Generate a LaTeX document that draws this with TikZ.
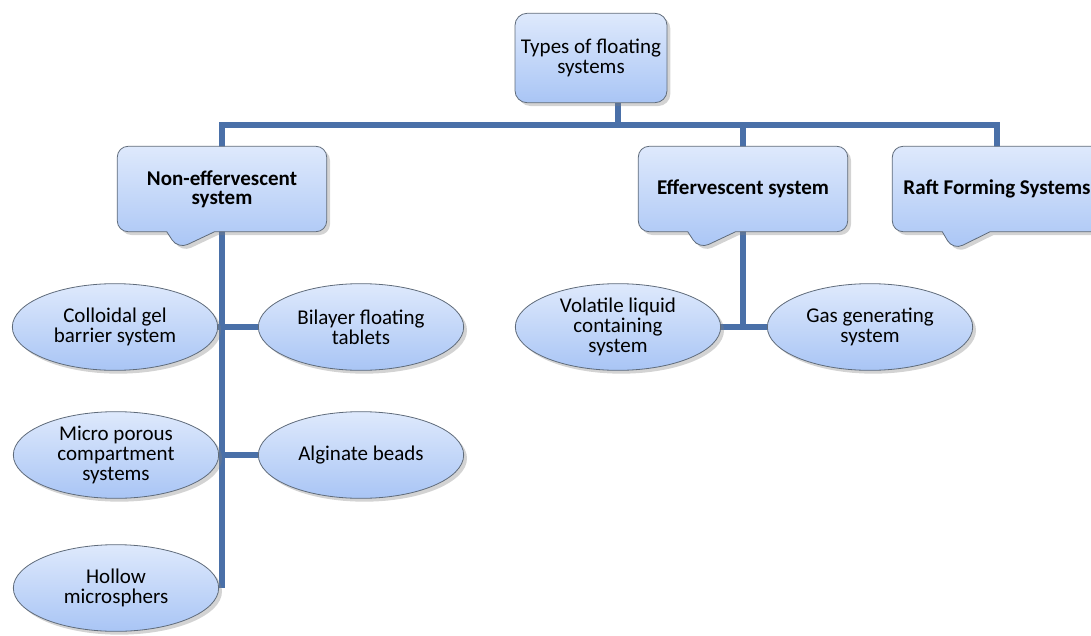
\documentclass[tikz,border=0pt]{standalone}
\usepackage{fontspec}
\setmainfont{Carlito}
\usetikzlibrary{shapes.geometric,shapes.callouts,shadows,backgrounds}
\definecolor{linkblue}{HTML}{4A70A8}
\definecolor{boxtop}{HTML}{DEE9FC}
\definecolor{boxbot}{HTML}{A9C5F5}
\definecolor{edge}{HTML}{5F6B7A}

\begin{document}
\begin{tikzpicture}[x=0.75pt, y=-0.75pt,
  base/.style={draw=edge, line width=0.6pt, top color=boxtop, bottom color=boxbot, align=center,
    font=\fontsize{15.75}{14.5}\selectfont,
    drop shadow={shadow xshift=2.5pt, shadow yshift=-2.5pt, opacity=0.35}},
  topbox/.style={base, rectangle, rounded corners=9pt, minimum width=114pt, minimum height=67pt},
  kind/.style={base, rectangle callout, rounded corners=8pt, minimum width=157pt, minimum height=64pt,
    font=\fontsize{15.75}{14.5}\selectfont\bfseries,
    callout absolute pointer={#1}, callout pointer width=36pt},
  sub/.style={base, ellipse, inner sep=0pt, minimum width=154pt, minimum height=65pt,
    font=\fontsize{15.75}{15}\selectfont},
  link/.style={draw=linkblue, line width=4.5pt}]
\useasboundingbox (0,0) rectangle (1091,635);
% top level
\node[topbox] (root) at (591,58) {Types of floating\\systems};
\coordinate (bus) at (618,125);
% kinds
\node[kind={(178,249)}] (nonef) at (222,189) {Non-effervescent\\system};
\node[kind={(699,249)}] (eff)   at (743,189) {Effervescent system};
\node[kind={(953,250)}] (raft)  at (997,189) {Raft Forming Systems};
% non-effervescent members
\node[sub] (colloid)  at (115,327) {Colloidal gel\\barrier system};
\node[sub] (bilayer)  at (361,327) {Bilayer floating\\tablets};
\node[sub] (micro)    at (116,455) {Micro porous\\compartment\\systems};
\node[sub] (alginate) at (361,455) {Alginate beads};
\node[sub] (hollow)   at (116,588) {Hollow\\microsphers};
% effervescent members
\node[sub] (volatile) at (618,327) {Volatile liquid\\containing\\system};
\node[sub] (gas)      at (870,327) {Gas generating\\system};
% connectors
\begin{scope}[on background layer]
\draw[link] (bus |- root.south) -- (bus);
\draw[link] (nonef.center |- hollow.center) -- (nonef.center |- bus) -- (raft.center |- bus) -- (raft.center);
\draw[link] (eff.center |- bus) -- (eff.center |- gas.center);
\draw[link] (colloid) -- (bilayer);
\draw[link] (micro) -- (alginate);
\draw[link] (volatile) -- (gas);
\end{scope}
\end{tikzpicture}
\end{document}
